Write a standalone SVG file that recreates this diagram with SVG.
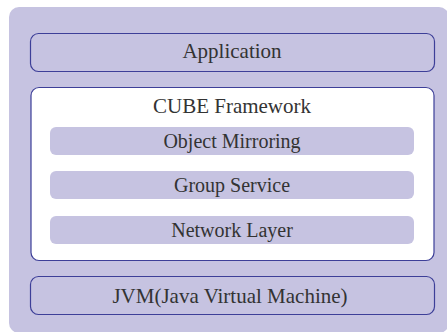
<svg xmlns="http://www.w3.org/2000/svg" width="447" height="332" viewBox="0 0 447 332">
<style>
.bg{fill:#c6c3e1}
.layer{fill:#c6c3e1;stroke:#3d3f98;stroke-width:1.2}
.frame{fill:#ffffff;stroke:#3d3f98;stroke-width:1.2}
.sub{fill:#c6c3e1}
text{font-family:"Liberation Serif","Times New Roman",serif;fill:#333333;text-anchor:middle}
.big{font-size:21px}
.small{font-size:20px}
</style>
<rect class="bg" x="9" y="7" width="440" height="326" rx="10"/>
<g id="application">
<rect class="layer" x="30.5" y="33.5" width="404" height="38" rx="8"/>
<text class="big" x="232" y="58">Application</text>
</g>
<g id="cube-framework">
<rect class="frame" x="31" y="87.5" width="403" height="173" rx="8"/>
<text class="big" x="232" y="113">CUBE Framework</text>
</g>
<g id="object-mirroring">
<rect class="sub" x="50" y="127" width="364" height="28" rx="6"/>
<text class="small" x="232" y="148">Object Mirroring</text>
</g>
<g id="group-service">
<rect class="sub" x="50" y="171" width="364" height="28" rx="6"/>
<text class="small" x="232" y="192">Group Service</text>
</g>
<g id="network-layer">
<rect class="sub" x="50" y="216" width="364" height="28" rx="6"/>
<text class="small" x="232" y="237">Network Layer</text>
</g>
<g id="jvm">
<rect class="layer" x="30.5" y="276.5" width="404" height="38" rx="8"/>
<text class="big" x="230" y="303">JVM(Java Virtual Machine)</text>
</g>
<g id="connectors"></g>
</svg>
